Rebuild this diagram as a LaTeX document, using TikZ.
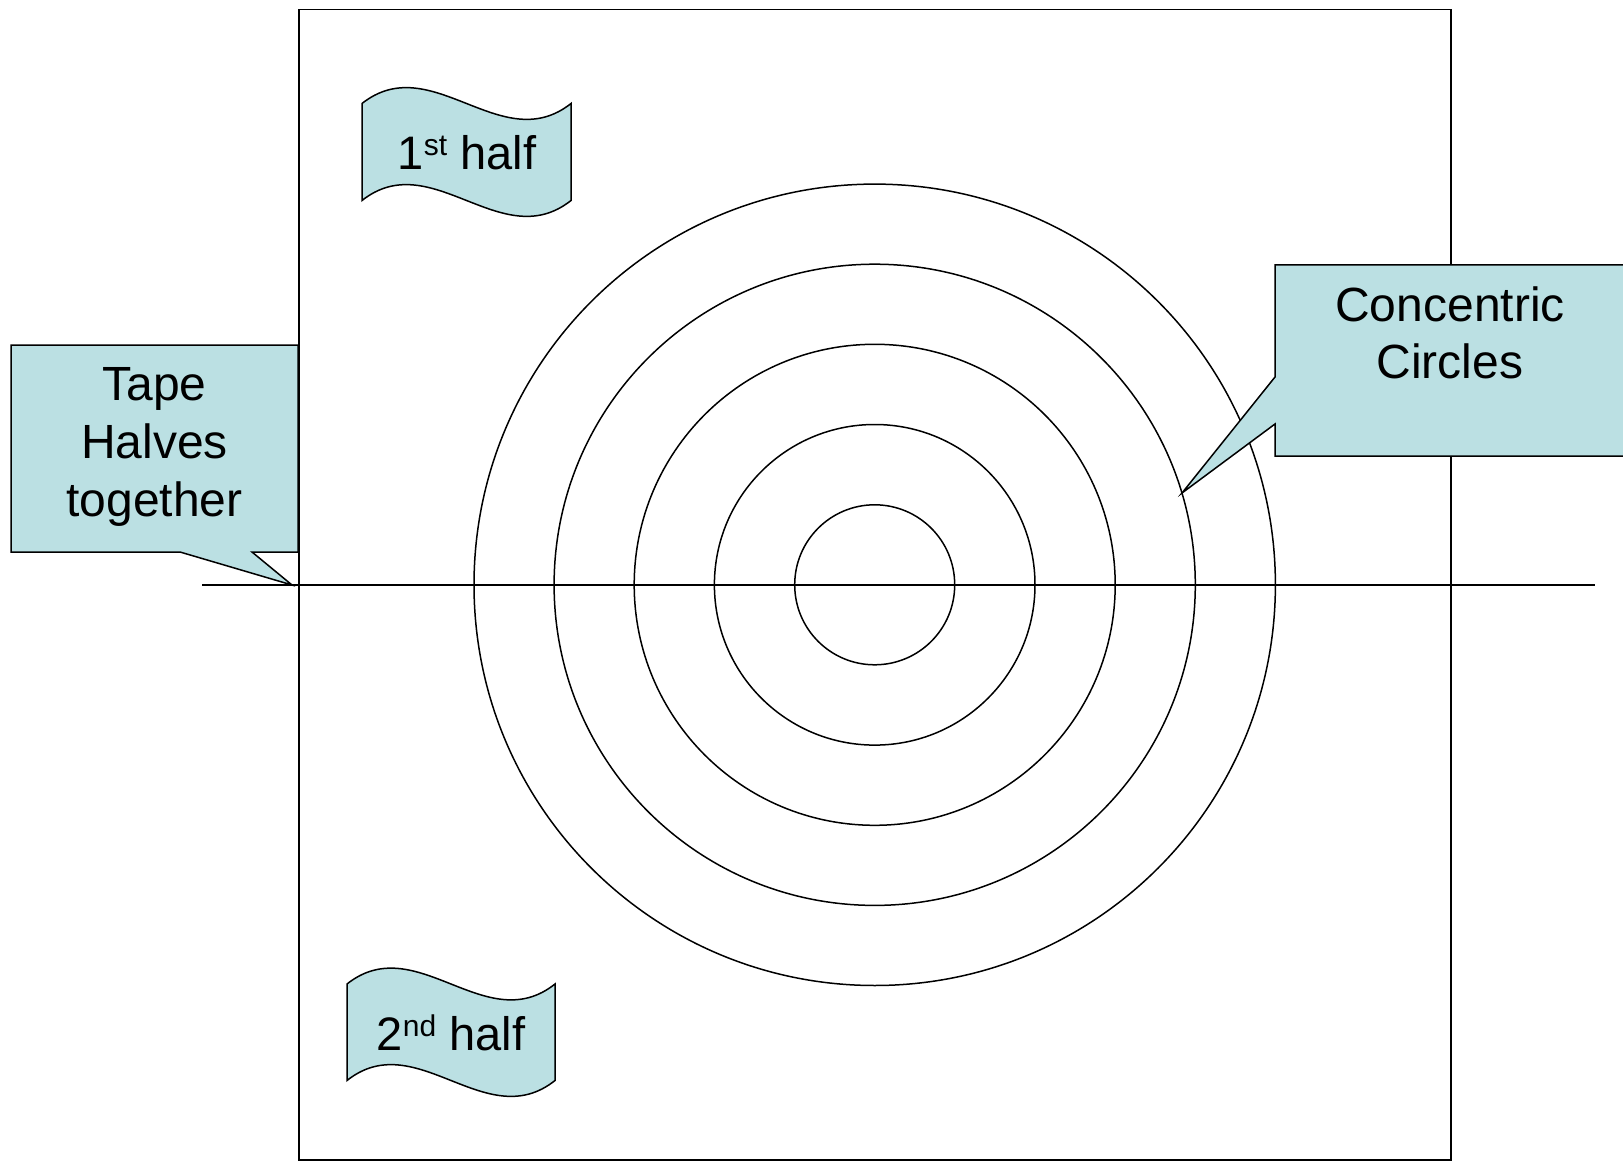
\documentclass[tikz,border=0pt]{standalone}
\usepackage{fontspec}
\setmainfont{Liberation Sans}
\definecolor{calloutfill}{RGB}{187,224,227}
\newcommand{\mysup}[1]{\raisebox{14pt}{\fontsize{30}{30}\selectfont #1}}
\begin{document}
\begin{tikzpicture}[x=1pt,y=-1pt,line width=1.5pt,line join=miter,
  shapefill/.style={draw=black,fill=calloutfill,line width=1.5pt},
  lbl/.style={anchor=base,inner sep=0pt,font=\fontsize{47}{57}\selectfont},
  biglbl/.style={lbl,font=\fontsize{48}{58}\selectfont}]
\useasboundingbox (0,0) rectangle (1623,1161);
% square sheet
\draw (299,9.5) rectangle (1451,1160);
% horizontal line
\coordinate (hl) at (202,585);
\coordinate (hr) at (1595,585);
\draw (hl) -- (hr);
% concentric circles
\coordinate (c) at (874.7,584.8);
\foreach \r in {80,160.3,240.5,320.6,400.7}
  \draw (c) circle[radius=\r];
% wave flags
\draw[shapefill] (362,103.5) .. controls (431.7,48.5) and (501.3,158.5) .. (571,103.5)
  -- (571,200.5) .. controls (501.3,255.5) and (431.7,145.5) .. (362,200.5) -- cycle;
\draw[shapefill] (347,984) .. controls (416.3,929) and (485.7,1039) .. (555,984)
  -- (555,1080.5) .. controls (485.7,1135.5) and (416.3,1025.5) .. (347,1080.5) -- cycle;
% callouts
\coordinate (tapetip) at (292,585);
\draw[shapefill] (11,345) -- (298,345) -- (298,552) -- (252,552) -- (tapetip)
  -- (180,552) -- (11,552) -- cycle;
\coordinate (conctip) at (1182,493);
\draw[shapefill] (1275,265) -- (1625,265) -- (1625,456) -- (1275,456) -- (1275,424)
  -- (conctip) -- (1275,377) -- cycle;
% labels
\node[biglbl] (tape1) at (154.5,400) {Tape};
\node[biglbl] (tape2) at (154.5,458) {Halves};
\node[biglbl] (tape3) at (154.5,516) {together};
\node[biglbl] (conc1) at (1450,321.7) {Concentric};
\node[biglbl] (conc2) at (1450,378.3) {Circles};
\node[lbl] (first) at (467,170) {1\mysup{st} half};
\node[lbl] (second) at (451,1050.7) {2\mysup{nd} half};
\end{tikzpicture}
\end{document}
